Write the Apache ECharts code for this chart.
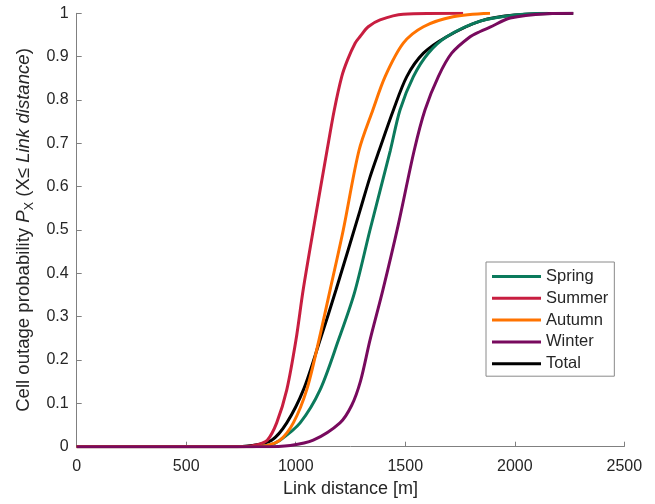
<!DOCTYPE html>
<html>
<head>
<meta charset="utf-8">
<script src="https://cdn.jsdelivr.net/npm/echarts@6/dist/echarts.min.js"></script>
<style>html,body{margin:0;padding:0;background:#fff}#c{width:655px;height:504px}</style>
</head>
<body>
<div id="c"></div>
<script>
var seriesNames = ['Spring', 'Summer', 'Autumn', 'Winter', 'Total'];
var xTicks = [0, 500, 1000, 1500, 2000, 2500];
var yTicks = [0, 0.1, 0.2, 0.3, 0.4, 0.5, 0.6, 0.7, 0.8, 0.9, 1];

var springX = [0, 800, 880, 928, 1020, 1111, 1195, 1268, 1339, 1432, 1476, 1537, 1605, 1689, 1842, 2000, 2150];
var springY = [0, 0, 0.004, 0.015, 0.055, 0.131, 0.246, 0.355, 0.5, 0.684, 0.777, 0.854, 0.908, 0.946, 0.982, 0.996, 1];

var summerX = [0, 760, 820, 870, 913, 959, 1001, 1034, 1084, 1143, 1176, 1210, 1236, 1271, 1293, 1331, 1385, 1490, 1764];
var summerY = [0, 0, 0.004, 0.015, 0.055, 0.131, 0.246, 0.362, 0.512, 0.684, 0.777, 0.854, 0.892, 0.931, 0.946, 0.969, 0.985, 0.998, 1];

var autumnX = [0, 800, 870, 928, 989, 1050, 1106, 1157, 1217, 1289, 1352, 1408, 1491, 1583, 1718, 1887];
var autumnY = [0, 0, 0.003, 0.015, 0.055, 0.131, 0.246, 0.362, 0.5, 0.684, 0.777, 0.854, 0.931, 0.969, 0.992, 1];

var winterX = [0, 850, 975, 1080, 1202, 1255, 1296, 1339, 1398, 1468, 1541, 1590, 1651, 1712, 1796, 1842, 1887, 1979, 2146, 2267];
var winterY = [0, 0, 0.003, 0.015, 0.055, 0.095, 0.152, 0.246, 0.362, 0.512, 0.684, 0.777, 0.854, 0.908, 0.946, 0.958, 0.968, 0.989, 0.999, 1];

var totalX = [0, 700, 800, 890, 959, 1035, 1111, 1184, 1294, 1339, 1381, 1446, 1507, 1583, 1689, 1842, 2000, 2267];
var totalY = [0, 0, 0.003, 0.015, 0.055, 0.131, 0.246, 0.362, 0.546, 0.622, 0.684, 0.777, 0.854, 0.908, 0.946, 0.982, 0.996, 1];

var colors = {Spring: '#0b7a5c', Summer: '#c81e40', Autumn: '#ff7300', Winter: '#780a5e', Total: '#000000'};

function pairs(xs, ys) { return xs.map(function (x, i) { return [x, ys[i]]; }); }

var dataMap = {
  Spring: pairs(springX, springY),
  Summer: pairs(summerX, summerY),
  Autumn: pairs(autumnX, autumnY),
  Winter: pairs(winterX, winterY),
  Total: pairs(totalX, totalY)
};
var zMap = {Total: 1, Spring: 2, Summer: 3, Autumn: 4, Winter: 5};

var FONT = '"Liberation Sans", Arial, Helvetica, sans-serif';
var TXT = '#262626';
var AX = '#808080';

var chart = echarts.init(document.getElementById('c'), null, {renderer: 'canvas'});
chart.setOption({
  animation: false,
  backgroundColor: '#ffffff',
  textStyle: {fontFamily: FONT},
  grid: {left: 76.7, right: 30.7, top: 13.3, bottom: 57.3, containLabel: false},
  legend: {
    data: seriesNames,
    orient: 'vertical',
    left: 486, top: 262,
    padding: [6, 6, 4, 6],
    itemWidth: 49, itemHeight: 3, itemGap: 4.8,
    icon: 'rect',
    backgroundColor: '#ffffff',
    borderColor: '#8a8a8a', borderWidth: 1, borderRadius: 0,
    textStyle: {fontFamily: FONT, fontSize: 16.5, color: TXT, lineHeight: 16.2}
  },
  xAxis: {
    type: 'value', min: xTicks[0], max: xTicks[xTicks.length - 1], interval: 500,
    name: 'Link distance [m]', nameLocation: 'middle', nameGap: 33,
    nameTextStyle: {fontFamily: FONT, fontSize: 18, color: TXT},
    axisLine: {show: true, lineStyle: {color: AX, width: 1}},
    axisTick: {show: true, inside: true, length: 5, lineStyle: {color: AX}},
    axisLabel: {fontFamily: FONT, fontSize: 16, color: TXT, margin: 12,
      formatter: function (v) { return String(v); }},
    splitLine: {show: false}
  },
  yAxis: {
    type: 'value', min: yTicks[0], max: yTicks[yTicks.length - 1], interval: 0.1,
    name: 'Cell outage probability {i|P}{sub|X} (X\u2264 {i|Link distance})',
    nameLocation: 'middle', nameGap: 41, nameRotate: 90,
    nameTextStyle: {
      fontFamily: FONT, fontSize: 18.6, color: TXT,
      rich: {
        i: {fontFamily: FONT, fontSize: 18.6, fontStyle: 'italic', color: TXT},
        sub: {fontFamily: FONT, fontSize: 12.5, color: TXT, padding: [11, 0, 0, 0]}
      }
    },
    axisLine: {show: true, lineStyle: {color: AX, width: 1}},
    axisTick: {show: true, inside: true, length: 5, lineStyle: {color: AX}},
    axisLabel: {fontFamily: FONT, fontSize: 16, color: TXT, margin: 8,
      formatter: function (v) { return String(Math.round(v * 10) / 10); }},
    splitLine: {show: false}
  },
  series: seriesNames.map(function (n) {
    return {
      name: n, type: 'line', data: dataMap[n], z: zMap[n],
      showSymbol: false, symbol: 'none',
      smooth: 0.3,
      lineStyle: {color: colors[n], width: 3},
      itemStyle: {color: colors[n]},
      emphasis: {disabled: true}
    };
  })
});
</script>
</body>
</html>
